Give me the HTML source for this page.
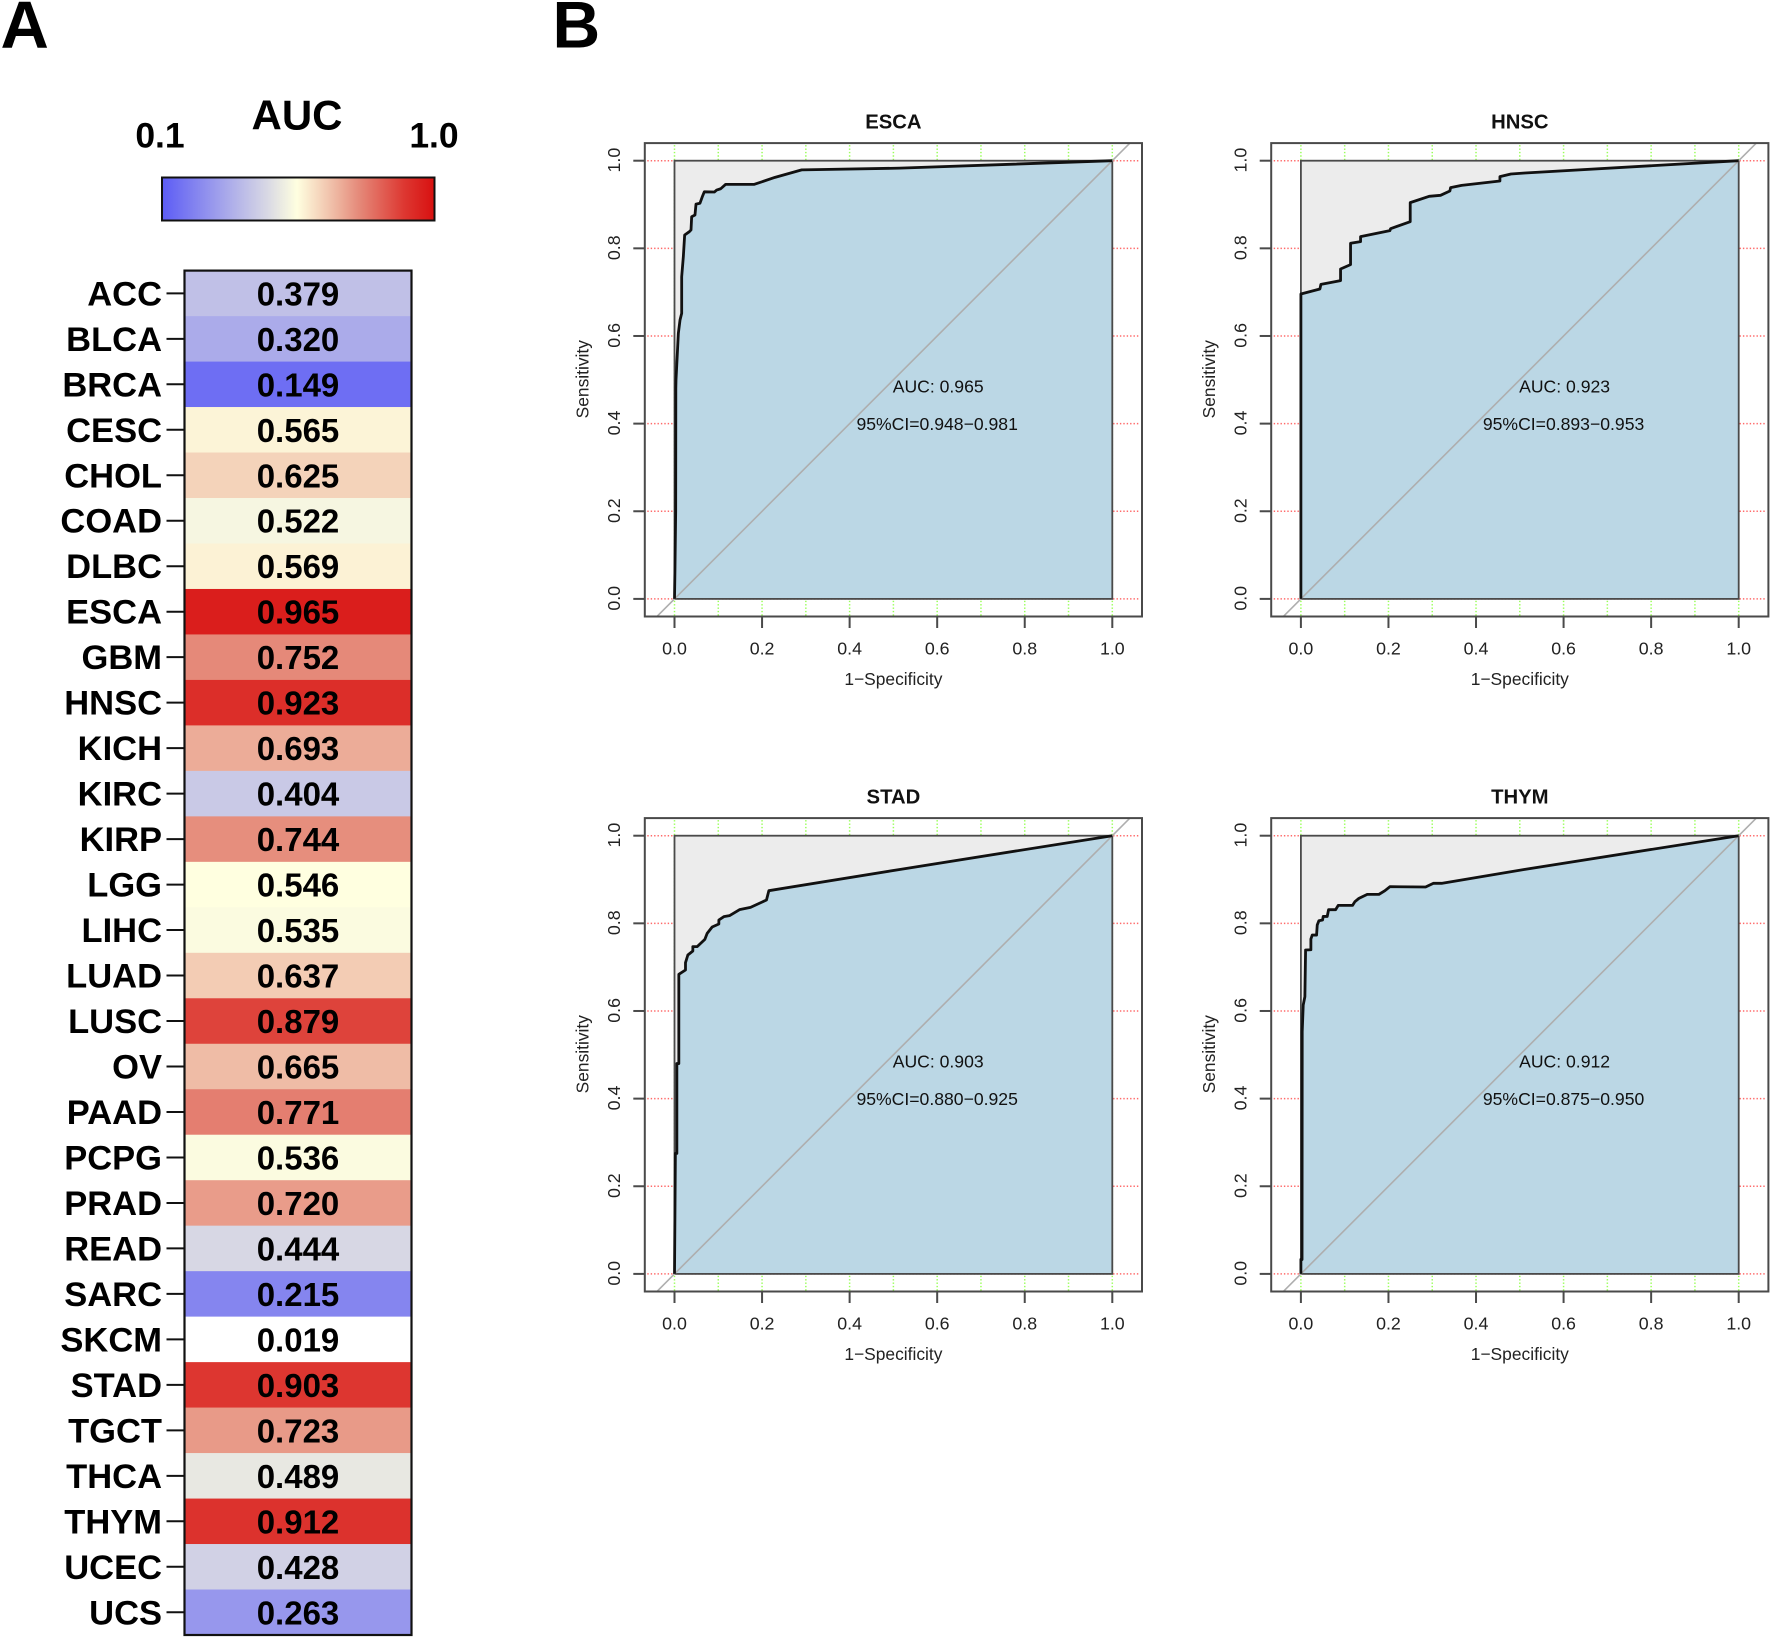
<!DOCTYPE html>
<html lang="en">
<head>
<meta charset="utf-8">
<title>AUC heatmap and ROC curves</title>
<style>
html,body{margin:0;padding:0;background:#fff;}
svg{display:block;font-family:"Liberation Sans",Arial,sans-serif;}
</style>
</head>
<body>
<svg id="figure" xmlns="http://www.w3.org/2000/svg" width="1772" height="1639" viewBox="0 0 1772 1639">
  <defs>
    <linearGradient id="auc-gradient" x1="0" y1="0" x2="1" y2="0"></linearGradient>
  </defs>
  <rect x="0" y="0" width="1772" height="1639" fill="#fff"/>
  <text x="0.500" y="48" font-size="67" font-weight="700" fill="#000">A</text>
  <text x="552.500" y="47.500" font-size="66" font-weight="700" fill="#000">B</text>
  <text x="297" y="129.500" font-size="42" font-weight="700" text-anchor="middle" fill="#000">AUC</text>
  <text x="160" y="147.500" font-size="35.500" font-weight="700" text-anchor="middle" fill="#000">0.1</text>
  <text x="434" y="147.500" font-size="35.500" font-weight="700" text-anchor="middle" fill="#000">1.0</text>
  <rect x="162" y="177.500" width="272.500" height="43" fill="url(#auc-gradient)" stroke="#111" stroke-width="2"/>
  <g id="heatmap"></g>
  <g id="rocs"></g>
</svg>
<script>
// ---------- Heatmap data ----------
const cancerTypes = ["ACC","BLCA","BRCA","CESC","CHOL","COAD","DLBC","ESCA","GBM","HNSC","KICH","KIRC","KIRP","LGG","LIHC","LUAD","LUSC","OV","PAAD","PCPG","PRAD","READ","SARC","SKCM","STAD","TGCT","THCA","THYM","UCEC","UCS"];
const aucValues = [0.379,0.320,0.149,0.565,0.625,0.522,0.569,0.965,0.752,0.923,0.693,0.404,0.744,0.546,0.535,0.637,0.879,0.665,0.771,0.536,0.720,0.444,0.215,0.019,0.903,0.723,0.489,0.912,0.428,0.263];
const colorStopValues = [0.10,0.30,0.45,0.546,0.65,0.75,0.90,1.00];
const colorStopColors = ["#5c5cf5","#a4a4eb","#d9d9e4","#ffffe0","#f1c5ae","#e58a7a","#dd3731","#d81010"];

// ---------- ROC data ----------
const panelNames = ["ESCA","HNSC","STAD","THYM"];
const panelAuc = ["AUC: 0.965","AUC: 0.923","AUC: 0.903","AUC: 0.912"];
const panelCi = ["95%CI=0.948\u22120.981","95%CI=0.893\u22120.953","95%CI=0.880\u22120.925","95%CI=0.875\u22120.950"];
const xTicks = [0,0.2,0.4,0.6,0.8,1];
const xTickLabels = ["0.0","0.2","0.4","0.6","0.8","1.0"];
const greenGrid = [0,0.1,0.2,0.3,0.4,0.5,0.6,0.7,0.8,0.9,1];

const escaFpr = [0,0.001,0.0027,0.003,0.0034,0.0088,0.0126,0.0164,0.0164,0.0202,0.0232,0.0339,0.0377,0.0392,0.0468,0.0491,0.0582,0.0636,0.0681,0.091,0.0963,0.1055,0.1169,0.1823,0.2296,0.2905,0.515,1];
const escaTpr = [0,0.065,0.2,0.48,0.4995,0.606,0.6365,0.6517,0.735,0.781,0.8305,0.838,0.842,0.872,0.876,0.901,0.903,0.918,0.929,0.9285,0.933,0.936,0.946,0.946,0.962,0.979,0.983,1];

const hnscFpr = [0,0,0.0434,0.0457,0.0906,0.0906,0.1134,0.1134,0.1363,0.1363,0.2033,0.2048,0.2497,0.2497,0.293,0.319,0.3403,0.3419,0.367,0.4546,0.4546,0.4797,0.5117,1];
const hnscTpr = [0,0.6958,0.7072,0.7178,0.7262,0.7529,0.7628,0.8115,0.8152,0.8267,0.8404,0.8449,0.8609,0.9043,0.9187,0.921,0.9309,0.9385,0.9438,0.9537,0.9636,0.9697,0.972,1];

const stadFpr = [0,0.002,0.0054,0.0054,0.0099,0.0099,0.0251,0.0251,0.0305,0.0419,0.0419,0.0518,0.0693,0.0746,0.086,0.1013,0.1013,0.1127,0.1256,0.1485,0.1736,0.2101,0.2155,0.5162,1];
const stadTpr = [0,0.275,0.275,0.48,0.48,0.6836,0.6935,0.7103,0.7277,0.7369,0.7468,0.7468,0.7635,0.7772,0.7917,0.7985,0.8076,0.8152,0.8175,0.8312,0.8365,0.8532,0.8745,0.9232,1];

const thymFpr = [0,0,0.0026,0.003,0.0053,0.0091,0.0107,0.0228,0.0228,0.0259,0.0358,0.0373,0.0411,0.0495,0.051,0.0601,0.0632,0.0792,0.0853,0.118,0.1233,0.1325,0.1515,0.1782,0.1919,0.2033,0.2848,0.3023,0.3213,0.5117,1];
const thymTpr = [0,0.033,0.033,0.5527,0.6136,0.6326,0.7391,0.7398,0.7642,0.7733,0.7733,0.7961,0.806,0.8076,0.8158,0.8158,0.8311,0.8311,0.841,0.841,0.8494,0.857,0.8661,0.8661,0.8745,0.8836,0.8829,0.8913,0.8913,0.9232,1];

const panelFpr = [escaFpr,hnscFpr,stadFpr,thymFpr];
const panelTpr = [escaTpr,hnscTpr,stadTpr,thymTpr];

const NS = "http://www.w3.org/2000/svg";
function mk(tag, parent, props){
  const el = document.createElementNS(NS, tag);
  for (const k in props) el.setAttribute(k, props[k]);
  parent.appendChild(el);
  return el;
}
function hexToRgb(h){ return [1,3,5].map(function(i){ return parseInt(h.substr(i,2),16); }); }
function aucColor(v){
  if (v < colorStopValues[0]) return "rgb(255,255,255)";
  for (let i = 1; i < colorStopValues.length; i++){
    if (v <= colorStopValues[i]){
      const t = (v - colorStopValues[i-1]) / (colorStopValues[i] - colorStopValues[i-1]);
      const a = hexToRgb(colorStopColors[i-1]), b = hexToRgb(colorStopColors[i]);
      return "rgb(" + a.map(function(c,j){ return Math.round(c + (b[j]-c)*t); }).join(",") + ")";
    }
  }
  return colorStopColors[colorStopColors.length-1];
}

// ---------- Legend gradient ----------
const gradient = document.getElementById("auc-gradient");
colorStopValues.forEach(function(v,i){
  mk("stop", gradient, {offset: ((v-0.1)/0.9).toFixed(4), "stop-color": colorStopColors[i]});
});

// ---------- Heatmap ----------
const heatmap = document.getElementById("heatmap");
const heatTop = 270.6, rowH = 45.48, heatLeft = 185, heatRight = 411;
function rowY(i){ return heatTop + i*rowH; }
cancerTypes.forEach(function(name,i){
  const cell = mk("rect", heatmap, {x:heatLeft, y:rowY(i).toFixed(2), width:heatRight-heatLeft, height:(rowH+0.3).toFixed(2), fill:aucColor(aucValues[i])});
  
  
});
cancerTypes.forEach(function(name,i){
  const cy = rowY(i) + rowH/2;
  const tick = mk("line", heatmap, {x1:166.5, x2:185, y1:cy.toFixed(2), y2:cy.toFixed(2), stroke:"#111", "stroke-width":2});
  
  
  const label = mk("text", heatmap, {x:162, y:(cy+12).toFixed(2), "font-size":34.5, "font-weight":700, "text-anchor":"end", fill:"#000"});
  label.textContent = name;
  
  
  const val = mk("text", heatmap, {x:298, y:(cy+12).toFixed(2), "font-size":33, "font-weight":700, "text-anchor":"middle", fill:"#000"});
  val.textContent = aucValues[i].toFixed(3);
  
  
});
const frame = mk("rect", heatmap, {x:heatLeft-0.5, y:heatTop, width:heatRight-heatLeft+1, height:(rowH*30).toFixed(2), fill:"none", stroke:"#111", "stroke-width":2.2});



// ---------- ROC panels ----------
const rocs = document.getElementById("rocs");
const plotW = 437.8, plotH = 438.2, marginX = 29.7, marginY = 17.6;
function originX(col){ return col === 0 ? 674.5 : 1300.9; }
function originY(row){ return row === 0 ? 598.9 : 1273.9; }

panelNames.forEach(function(name,p){
  const col = p % 2, row = p < 2 ? 0 : 1;
  const x0 = originX(col), y0 = originY(row);
  const X = function(v){ return x0 + v*plotW; };
  const Y = function(v){ return y0 - v*plotH; };
  const boxL = X(0)-marginX, boxR = X(1)+marginX, boxT = Y(1)-marginY, boxB = Y(0)+marginY;
  const g = mk("g", rocs, {});
  
  

  // dotted grid
  xTicks.forEach(function(v){
    const l = mk("line", g, {x1:boxL+2.5, x2:boxR-2, y1:Y(v).toFixed(2), y2:Y(v).toFixed(2), stroke:"#ff6a6a", "stroke-width":1.5, "stroke-dasharray":"1.4 2"});
    
    
  });
  greenGrid.forEach(function(v){
    const l = mk("line", g, {x1:X(v).toFixed(2), x2:X(v).toFixed(2), y1:boxT+2, y2:boxB-1, stroke:"#9aff5a", "stroke-width":1.5, "stroke-dasharray":"1.4 2"});
    
    
  });

  // grey square, blue area
  const square = mk("rect", g, {x:X(0).toFixed(2), y:Y(1).toFixed(2), width:plotW, height:plotH, fill:"#ececec"});
  
  

  const pts = panelFpr[p].map(function(f,i){ return X(f).toFixed(2) + "," + Y(panelTpr[p][i]).toFixed(2); });
  const area = mk("polygon", g, {points: pts.join(" ") + " " + X(1).toFixed(2) + "," + Y(0).toFixed(2), fill:"#bbd7e5"});
  
  

  const sqBorder = mk("rect", g, {x:X(0).toFixed(2), y:Y(1).toFixed(2), width:plotW, height:plotH, fill:"none", stroke:"#4a4a4a", "stroke-width":1.8});
  
  

  const diag = mk("line", g, {x1:X(-0.04).toFixed(2), y1:Y(-0.04).toFixed(2), x2:X(1.04).toFixed(2), y2:Y(1.04).toFixed(2), stroke:"#aeaeae", "stroke-width":1.6});
  
  

  const curve = mk("polyline", g, {points: pts.join(" "), fill:"none", stroke:"#111", "stroke-width":2.8, "stroke-linejoin":"round"});
  
  

  // plot box
  const box = mk("rect", g, {x:boxL.toFixed(2), y:boxT.toFixed(2), width:(boxR-boxL).toFixed(2), height:(boxB-boxT).toFixed(2), fill:"none", stroke:"#4a4a4a", "stroke-width":2});
  
  

  // axes ticks and labels
  xTicks.forEach(function(v,i){
    const t = mk("line", g, {x1:X(v).toFixed(2), x2:X(v).toFixed(2), y1:boxB.toFixed(2), y2:(boxB+11.5).toFixed(2), stroke:"#4a4a4a", "stroke-width":2});
    
    
    const tl = mk("text", g, {x:X(v).toFixed(2), y:(y0+55.7).toFixed(2), "font-size":17.8, "text-anchor":"middle", fill:"#222"});
    tl.textContent = xTickLabels[i];
    
    
    const yt = mk("line", g, {x1:(boxL-11.5).toFixed(2), x2:boxL.toFixed(2), y1:Y(v).toFixed(2), y2:Y(v).toFixed(2), stroke:"#4a4a4a", "stroke-width":2});
    
    
    const lx = x0 - 54.5, ly = Y(v) - 0.6;
    const yl = mk("text", g, {x:lx.toFixed(2), y:ly.toFixed(2), "font-size":17.8, "text-anchor":"middle", fill:"#222", transform:"rotate(-90 " + lx.toFixed(2) + " " + ly.toFixed(2) + ")"});
    yl.textContent = xTickLabels[i];
    
    
  });

  const title = mk("text", g, {x:X(0.5).toFixed(2), y:(y0-470.5).toFixed(2), "font-size":20.3, "font-weight":700, "text-anchor":"middle", fill:"#111"});
  title.textContent = name;
  
  

  const xTitle = mk("text", g, {x:X(0.5).toFixed(2), y:(y0+86).toFixed(2), "font-size":17.4, "text-anchor":"middle", fill:"#222"});
  xTitle.textContent = "1\u2212Specificity";
  
  

  const yx = x0 - 86, yy = Y(0.5) - 0.6;
  const yTitle = mk("text", g, {x:yx.toFixed(2), y:yy.toFixed(2), "font-size":17.4, "text-anchor":"middle", fill:"#222", transform:"rotate(-90 " + yx.toFixed(2) + " " + yy.toFixed(2) + ")"});
  yTitle.textContent = "Sensitivity";
  
  

  const aucText = mk("text", g, {x:(X(0.6)+1).toFixed(2), y:(y0-206.4).toFixed(2), "font-size":17.6, "text-anchor":"middle", fill:"#111"});
  aucText.textContent = panelAuc[p];
  
  

  const ciText = mk("text", g, {x:X(0.6).toFixed(2), y:(y0-168.9).toFixed(2), "font-size":17.6, "text-anchor":"middle", fill:"#111"});
  ciText.textContent = panelCi[p];
  
  
});
</script>
</body>
</html>
